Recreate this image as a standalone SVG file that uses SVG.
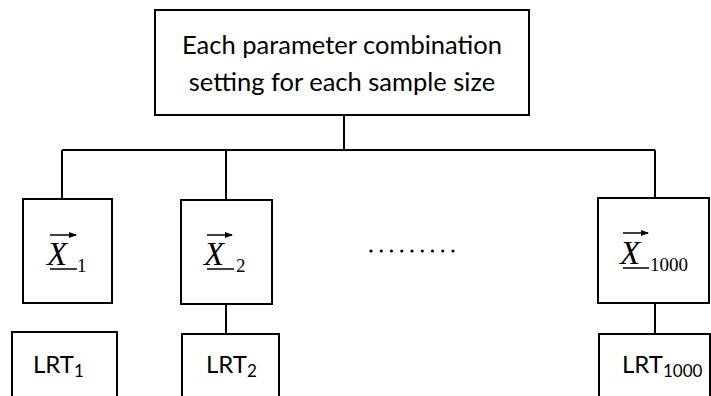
<svg xmlns="http://www.w3.org/2000/svg" width="711" height="396" viewBox="0 0 711 396">
<defs>
<style>
.box{fill:#fff;stroke:#000;stroke-width:2}
.ln{stroke:#000;stroke-width:2;fill:none}
.t{font-family:Lato,"Open Sans","Liberation Sans",sans-serif;font-size:25.5px;fill:#000}
.l{font-size:24px}
.sub{font-size:17px}
.x{font-family:"Liberation Serif","DejaVu Serif",serif;font-style:italic;font-size:33px;fill:#000}
.xs{font-family:"Liberation Serif","DejaVu Serif",serif;font-size:19px;fill:#000}
.ul{stroke:#000;stroke-width:1.5}
</style>
<marker id="ah" markerWidth="8" markerHeight="6" refX="7" refY="3" orient="auto" markerUnits="userSpaceOnUse">
<path d="M0,0 L8,3 L0,6 Z" fill="#000"/>
</marker>
</defs>
<rect width="711" height="396" fill="#fff"/>
<g id="connectors">
<path class="ln" d="M344,115 V150 M62,150 H655 M62,150 V199 M226,150 V200 M655,150 V198 M226,304 V334 M655,303 V334"/>
</g>
<g id="top">
<rect class="box" x="155" y="10" width="374" height="105"/>
<text class="t" x="342" y="54" text-anchor="middle">Each parameter combination</text>
<text class="t" x="342" y="91" text-anchor="middle">setting for each sample size</text>
</g>
<g id="x1">
<rect class="box" x="23" y="199" width="89" height="104"/>
<text class="x" x="47" y="265">X</text>
<text class="xs" x="77" y="272">1</text>
<line class="ul" x1="50" y1="235" x2="76" y2="235" marker-end="url(#ah)"/>
<line class="ul" x1="50" y1="269" x2="77" y2="269"/>
</g>
<g id="x2">
<rect class="box" x="181" y="200" width="91" height="104"/>
<text class="x" x="204" y="265">X</text>
<text class="xs" x="236" y="272">2</text>
<line class="ul" x1="207" y1="235" x2="232" y2="235" marker-end="url(#ah)"/>
<line class="ul" x1="207" y1="269" x2="234" y2="269"/>
</g>
<g id="dots" fill="#000">
<circle cx="371" cy="251" r="1.6"/><circle cx="381.3" cy="251" r="1.6"/><circle cx="391.5" cy="251" r="1.6"/><circle cx="401.8" cy="251" r="1.6"/><circle cx="412" cy="251" r="1.6"/><circle cx="422.3" cy="251" r="1.6"/><circle cx="432.5" cy="251" r="1.6"/><circle cx="442.8" cy="251" r="1.6"/><circle cx="453" cy="251" r="1.6"/>
</g>
<g id="x1000">
<rect class="box" x="598" y="198" width="111" height="105"/>
<text class="x" x="620" y="264">X</text>
<text class="xs" x="650" y="271">1000</text>
<line class="ul" x1="623" y1="233" x2="648" y2="233" marker-end="url(#ah)"/>
<line class="ul" x1="623" y1="268" x2="649" y2="268"/>
</g>
<g id="lrt1">
<rect class="box" x="12" y="332" width="105" height="70"/>
<text class="t l" x="33" y="373">LRT<tspan class="sub" dy="4">1</tspan></text>
</g>
<g id="lrt2">
<rect class="box" x="182" y="334" width="97" height="70"/>
<text class="t l" x="206" y="373">LRT<tspan class="sub" dy="4">2</tspan></text>
</g>
<g id="lrt1000">
<rect class="box" x="599" y="334" width="111" height="70"/>
<text class="t l" x="622" y="373">LRT<tspan class="sub" dy="4">1000</tspan></text>
</g>
</svg>
